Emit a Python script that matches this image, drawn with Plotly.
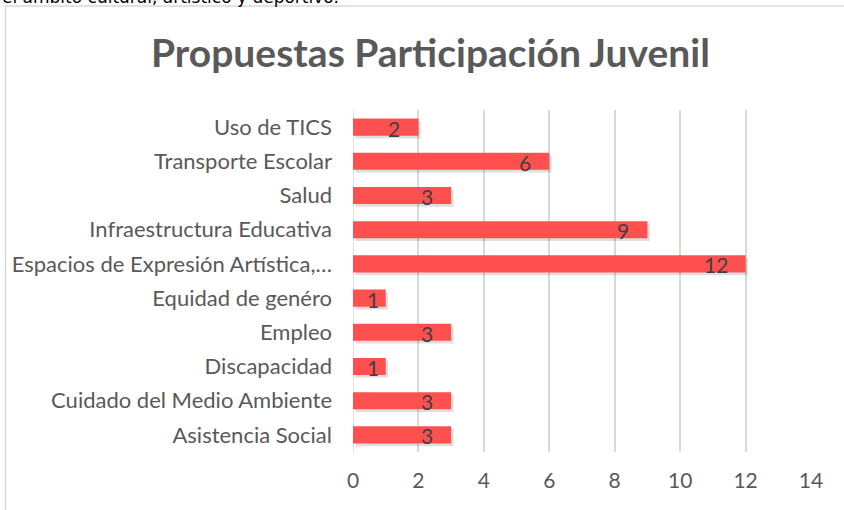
import plotly.graph_objects as go

categories = ["Asistencia Social", "Cuidado del Medio Ambiente", "Discapacidad", "Empleo",
              "Equidad de genéro", "Espacios de Expresión Artística,…", "Infraestructura Educativa",
              "Salud", "Transporte Escolar", "Uso de TICS"]
values = [3, 3, 1, 3, 1, 12, 9, 3, 6, 2]
x_ticks = [0, 2, 4, 6, 8, 10, 12, 14]

W, H = 844, 510
L, R, T, B = 353, 33, 110, 58
pw, ph = W - L - R, H - T - B

def px_x(p):
    return (p - L) / pw

def px_y(p):
    return (H - B - p) / ph

FONT = "Lato"
fig = go.Figure()
# soft shadow
fig.add_trace(go.Bar(
    y=categories, x=values, orientation="h", width=0.5,
    marker=dict(color="rgba(0,0,0,0.13)", line=dict(width=0)),
    hoverinfo="skip", showlegend=False, offset=-0.33, base=0.07,
))
fig.add_trace(go.Bar(
    y=categories, x=values, orientation="h", width=0.5,
    marker=dict(color="#FF5050", line=dict(width=0)),
    showlegend=False, offset=-0.25,
))

annotations = []
for c, v in zip(categories, values):
    annotations.append(dict(
        x=v, y=c, xref="x", yref="y", text=str(v), showarrow=False,
        xanchor="right", xshift=-16 if v > 1 else -5, yshift=-1,
        font=dict(family=FONT, size=21, color="#404040"),
    ))
annotations.append(dict(
    x=px_x(430), y=px_y(52), xref="paper", yref="paper",
    text="<b>Propuestas Participación Juvenil</b>", showarrow=False,
    xanchor="center", yanchor="middle",
    font=dict(family=FONT, size=39, color="#595959"),
))
annotations.append(dict(
    x=px_x(0), y=px_y(-3), xref="paper", yref="paper",
    text="el ámbito cultural, artístico y deportivo.", showarrow=False,
    xanchor="left", yanchor="middle",
    font=dict(family="DejaVu Sans", size=17, color="#000000"),
))
fig.update_layout(
    width=W, height=H,
    margin=dict(l=L, r=R, t=T, b=B),
    paper_bgcolor="white", plot_bgcolor="white",
    barmode="overlay",
    annotations=annotations,
    shapes=[
        dict(type="line", xref="paper", yref="paper", x0=px_x(5), x1=px_x(900), y0=px_y(6), y1=px_y(6),
             line=dict(color="#d9d9d9", width=1.5)),
        dict(type="line", xref="paper", yref="paper", x0=px_x(5.5), x1=px_x(5.5), y0=px_y(6), y1=px_y(600),
             line=dict(color="#d9d9d9", width=1.5)),
    ],
    xaxis=dict(range=[0, 14], tickvals=x_ticks, showgrid=True, gridcolor="#d9d9d9", gridwidth=1.5,
               zeroline=False, showline=False, ticks="", ticklabelstandoff=14,
               tickfont=dict(family=FONT, size=21, color="#595959")),
    yaxis=dict(categoryorder="array", categoryarray=categories, showgrid=False, zeroline=False,
               showline=False, ticks="", ticklabelstandoff=20,
               tickfont=dict(family=FONT, size=22, color="#595959")),
)
fig.add_shape(type="line", xref="x", yref="paper", x0=0, x1=0, y0=0, y1=1,
              line=dict(color="#d9d9d9", width=1.5), layer="below")
fig.write_html("out.html", config={"displayModeBar": False},
               post_script="document.body.style.margin='0';window.dispatchEvent(new Event('resize'));")
